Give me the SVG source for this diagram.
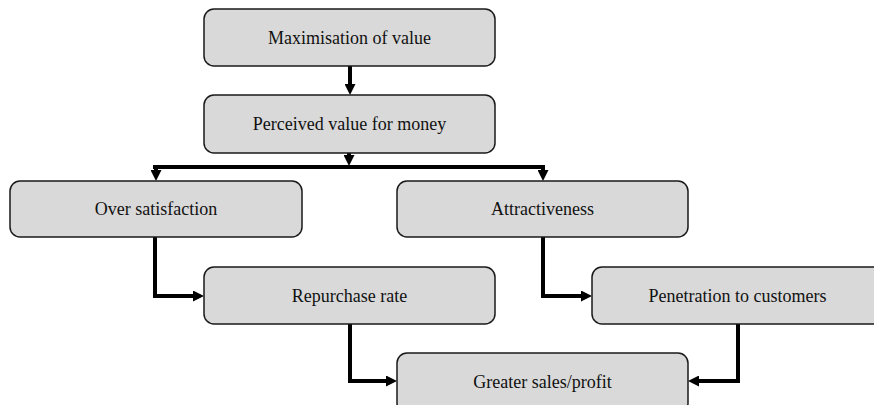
<svg xmlns="http://www.w3.org/2000/svg" width="874" height="405" viewBox="0 0 874 405">
  <style>
    .box { fill: #d9d9d9; stroke: #1a1a1a; stroke-width: 1.5; }
    .label { font-family: "Liberation Serif", "Times New Roman", serif; font-size: 18px; fill: #111; text-anchor: middle; }
    .link { fill: none; stroke: #000; stroke-width: 4; }
  </style>
  <defs>
    <marker id="arrow" viewBox="0 0 10 10" refX="0" refY="5" markerWidth="11" markerHeight="11" markerUnits="userSpaceOnUse" orient="auto">
      <path d="M0,0 L10,5 L0,10 z" fill="#000"/>
    </marker>
  </defs>

  <rect width="874" height="405" fill="#fff"/>

  <g id="connectors">
    <path class="link" d="M350,66 L350,84" marker-end="url(#arrow)"/>
    <path class="link" d="M349,153 L349,155" marker-end="url(#arrow)"/>
    <path class="link" d="M153,167 L545,167"/>
    <path class="link" d="M156,167 L156,170" marker-end="url(#arrow)"/>
    <path class="link" d="M543,167 L543,170" marker-end="url(#arrow)"/>
    <path class="link" d="M155,237 L155,296 L193,296" marker-end="url(#arrow)"/>
    <path class="link" d="M543,237 L543,296 L581,296" marker-end="url(#arrow)"/>
    <path class="link" d="M350,324 L350,381 L386,381" marker-end="url(#arrow)"/>
    <path class="link" d="M738,324 L738,381 L699,381" marker-end="url(#arrow)"/>
  </g>

  <g id="maximisation">
    <rect class="box" x="204" y="9" width="291" height="57" rx="10"/>
    <text class="label" x="349.5" y="44">Maximisation of value</text>
  </g>
  <g id="perceived-value">
    <rect class="box" x="204" y="95" width="291" height="58" rx="10"/>
    <text class="label" x="349.5" y="130">Perceived value for money</text>
  </g>
  <g id="over-satisfaction">
    <rect class="box" x="10" y="181" width="292" height="56" rx="10"/>
    <text class="label" x="156" y="215">Over satisfaction</text>
  </g>
  <g id="attractiveness">
    <rect class="box" x="397" y="181" width="291" height="56" rx="10"/>
    <text class="label" x="542.5" y="215">Attractiveness</text>
  </g>
  <g id="repurchase-rate">
    <rect class="box" x="204" y="267" width="291" height="57" rx="10"/>
    <text class="label" x="349.5" y="302">Repurchase rate</text>
  </g>
  <g id="penetration">
    <rect class="box" x="592" y="267" width="291" height="57" rx="10"/>
    <text class="label" x="737.5" y="302">Penetration to customers</text>
  </g>
  <g id="greater-sales">
    <rect class="box" x="397" y="353" width="291" height="60" rx="10"/>
    <text class="label" x="542.5" y="388">Greater sales/profit</text>
  </g>
</svg>
